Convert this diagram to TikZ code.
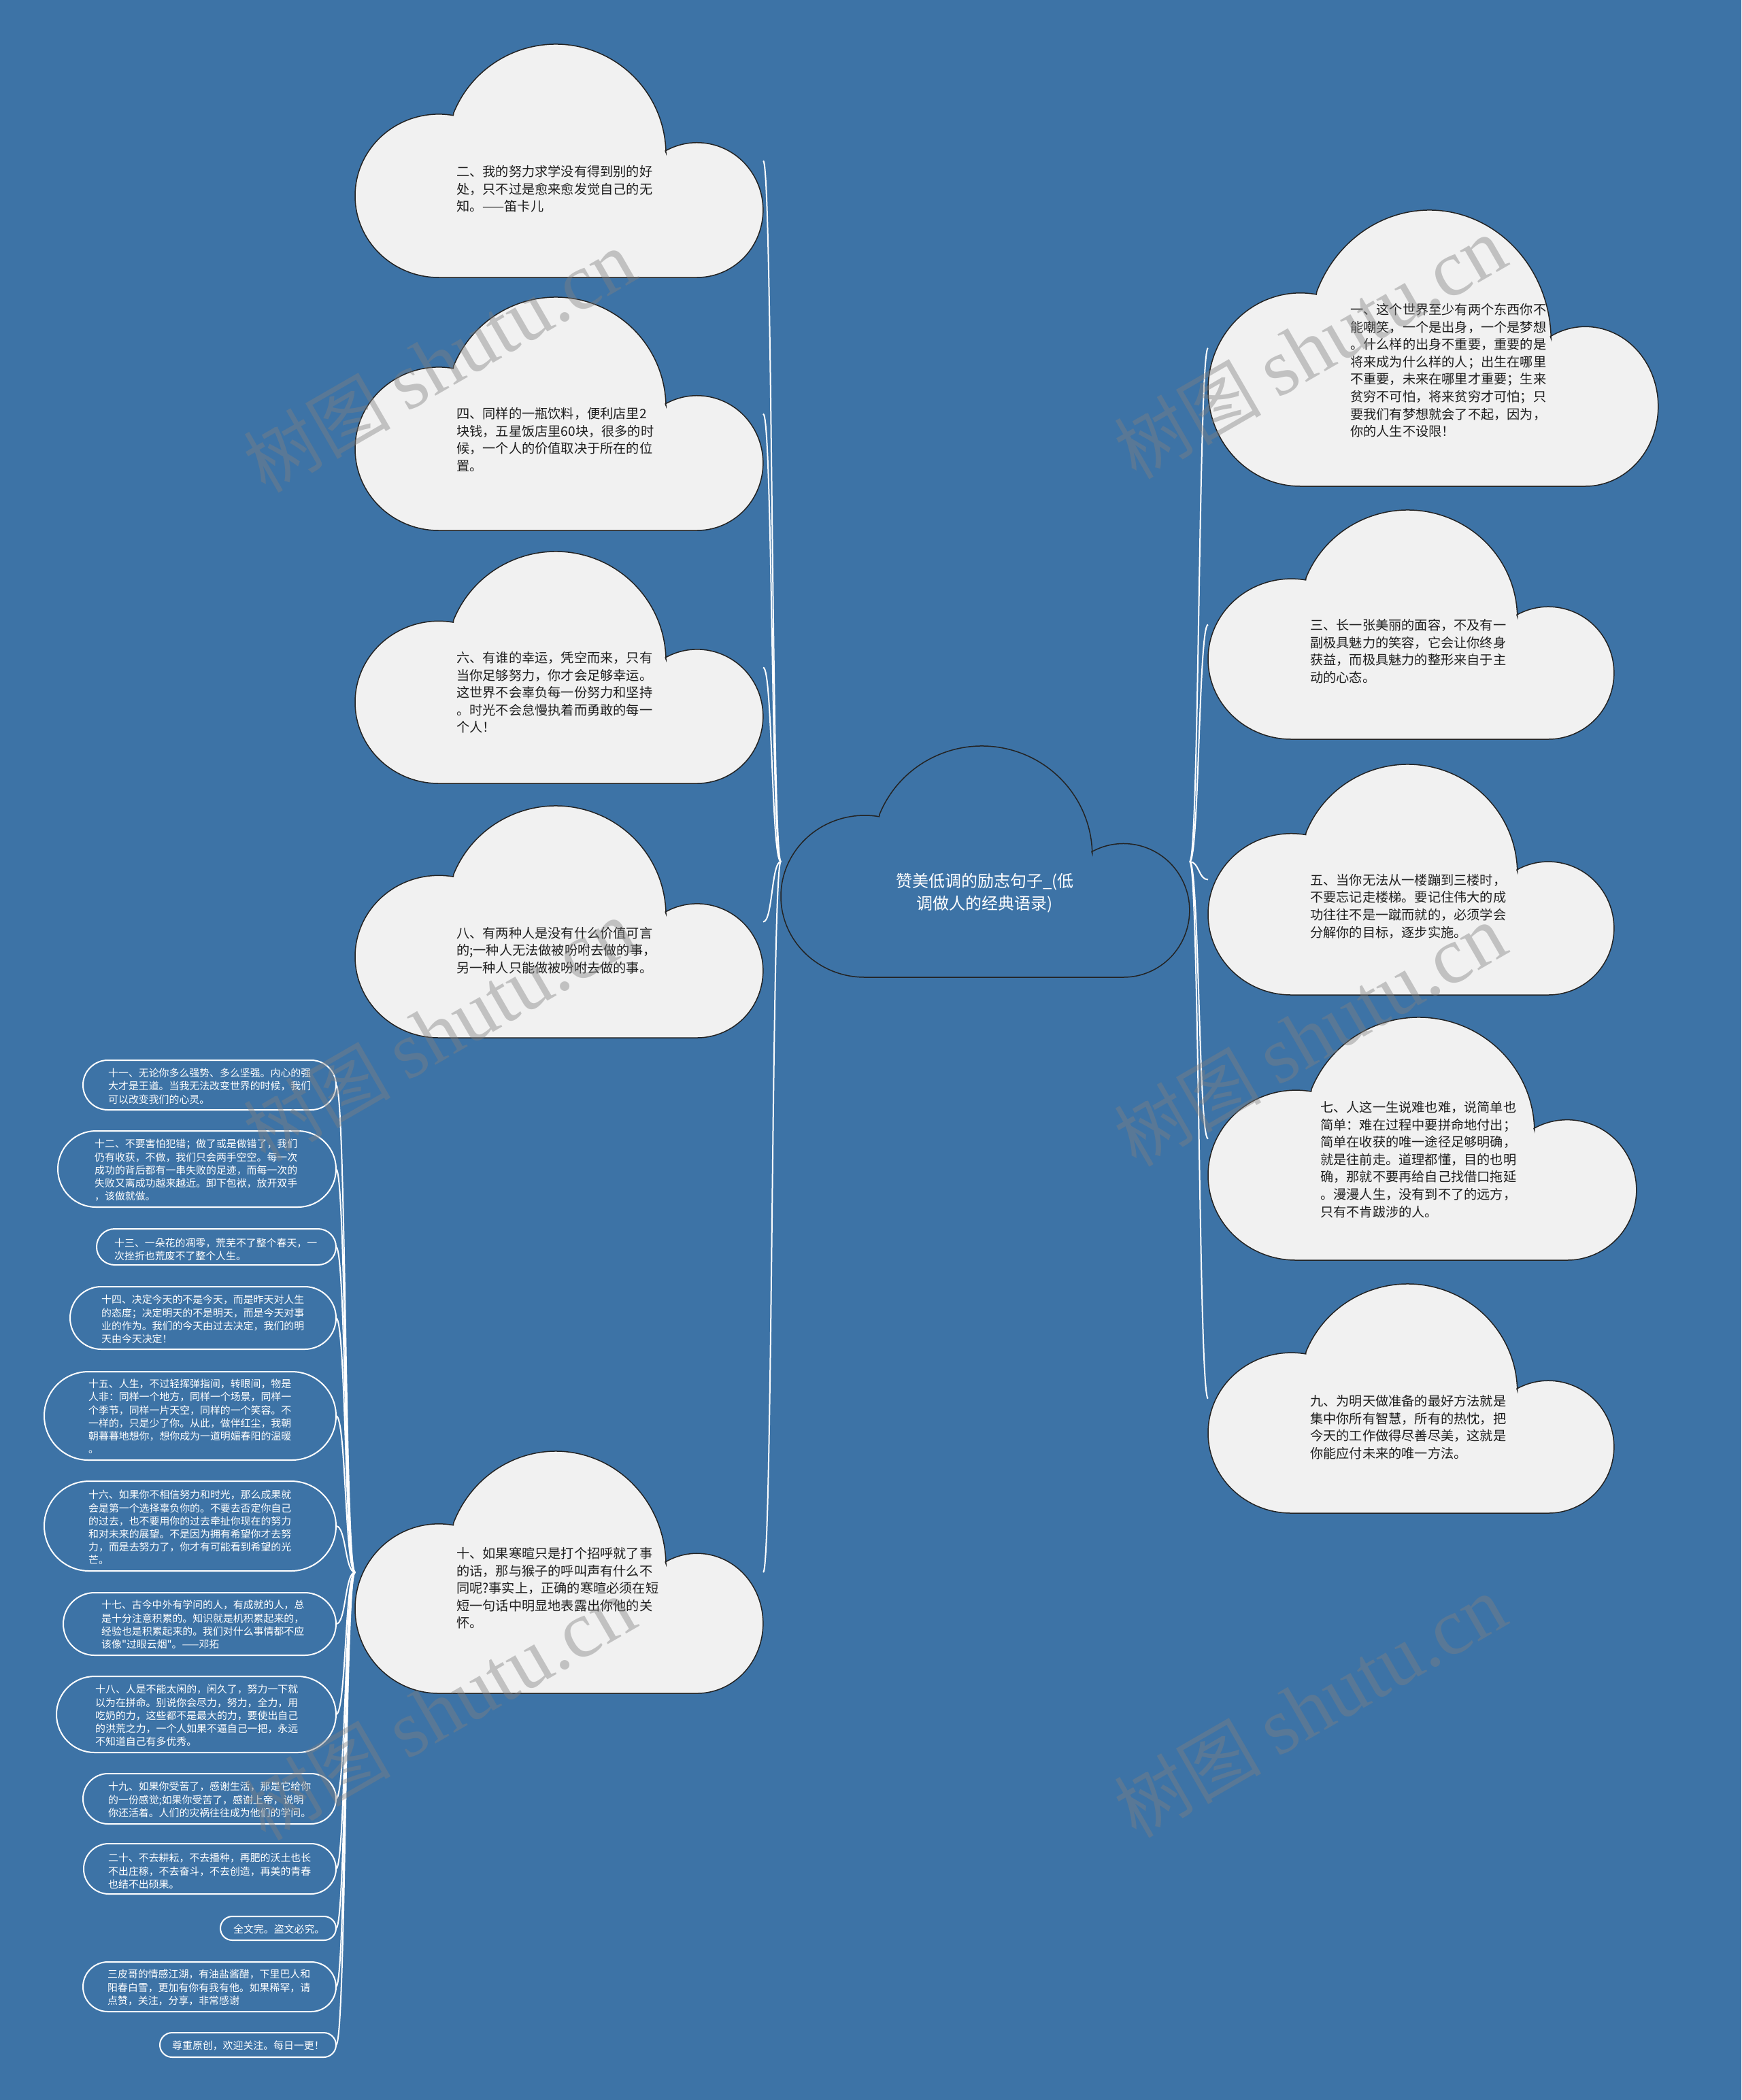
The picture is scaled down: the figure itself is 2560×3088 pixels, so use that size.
\documentclass[tikz,border=0pt]{standalone}
\usepackage{fontspec}
\setmainfont{Noto Sans CJK SC}
\newfontfamily\cjk{Noto Sans CJK SC}
\newfontfamily\wmfont{Liberation Serif}
\usetikzlibrary{shapes.misc}
\definecolor{bgblue}{RGB}{61,115,166}
\definecolor{cloudfill}{RGB}{241,241,241}
\definecolor{cloudline}{RGB}{35,35,35}
\definecolor{inktext}{RGB}{30,30,30}
\definecolor{wmgray}{RGB}{128,128,128}

\tikzset{
  conn/.style={draw=white, line width=2pt},
  cloudbody/.style={fill=cloudfill, draw=cloudline, line width=1.5pt},
  rootbody/.style={fill=bgblue, draw=cloudline, line width=1.5pt},
  bbox/.style={inner sep=0pt, outer sep=0pt, anchor=north west},
  ctext/.style={inner sep=0pt, anchor=north west, align=left, text=inktext, font=\cjk\fontsize{19.2}{25.6}\selectfont},
  rtext/.style={inner sep=0pt, anchor=north, align=center, text=white, font=\cjk\fontsize{24}{33}\selectfont},
  pill/.style={rounded rectangle, draw=white, line width=2pt, fill=bgblue, inner sep=0pt, outer sep=0pt, anchor=east},
  ptext/.style={inner sep=0pt, anchor=north west, align=left, text=white, font=\cjk\fontsize{14.9}{19.2}\selectfont},
  wm/.style={text=wmgray, opacity=0.42, rotate=30, inner sep=0pt}
}

% cloud: name, x-left, y-top (screen), W, H, style
\newcommand{\cloudnode}[6]{%
  \node[bbox, minimum width=#4pt, minimum height=#5pt] (#1) at (#2,-#3) {};
  \pgfmathsetmacro\Lcx{#2+0.205*#4}%
  \pgfmathsetmacro\Lcy{-#3-0.65*#5}%
  \pgfmathsetmacro\Lrx{0.205*#4}%
  \pgfmathsetmacro\Lry{0.35*#5}%
  \pgfmathsetmacro\Tcx{#2+0.4917*#4}%
  \pgfmathsetmacro\Tcy{-#3-0.4723*#5}%
  \pgfmathsetmacro\Trx{0.27*#4}%
  \pgfmathsetmacro\Try{0.4723*#5}%
  \pgfmathsetmacro\Rcx{#2+0.838*#4}%
  \pgfmathsetmacro\Rcy{-#3-0.711*#5}%
  \pgfmathsetmacro\Rrx{0.1617*#4}%
  \pgfmathsetmacro\Rry{0.289*#5}%
  \path[#6] (\Lcx,\Lcy-\Lry)
     arc[start angle=270, end angle=80, x radius=\Lrx pt, y radius=\Lry pt]
     -- ({\Tcx+\Trx*cos(158)},{\Tcy+\Try*sin(158)})
     arc[start angle=158, end angle=1, x radius=\Trx pt, y radius=\Try pt]
     -- ({\Rcx+\Rrx*cos(118.7)},{\Rcy+\Rry*sin(118.7)})
     arc[start angle=118.7, end angle=-90, x radius=\Rrx pt, y radius=\Rry pt]
     -- cycle;
}

\begin{document}
\begin{tikzpicture}[x=1pt,y=1pt]
\useasboundingbox (0,0) rectangle (2560,-3088);
\fill[bgblue] (0,0) rectangle (2560,-3088);

% ---------- clouds ----------
\cloudnode{root}{1148}{1097}{601}{340}{rootbody}
\cloudnode{c2}{522}{65}{600}{343}{cloudbody}
\cloudnode{c4}{522}{437}{600}{343}{cloudbody}
\cloudnode{c6}{522}{811}{600}{341}{cloudbody}
\cloudnode{c8}{522}{1185}{600}{341}{cloudbody}
\cloudnode{c10}{522}{2134}{600}{356}{cloudbody}
\cloudnode{c1}{1776}{309}{662}{406}{cloudbody}
\cloudnode{c3}{1776}{750}{597}{337}{cloudbody}
\cloudnode{c5}{1776}{1124}{597}{339}{cloudbody}
\cloudnode{c7}{1776}{1496}{630}{357}{cloudbody}
\cloudnode{c9}{1776}{1888}{597}{337}{cloudbody}

% ---------- cloud texts ----------
\node[rtext] (roott) at (1448,-1284) {赞美低调的励志句子\_(低\\调做人的经典语录)};

\node[ctext] (c2t) at (671,-243) {二、我的努力求学没有得到别的好\\处，只不过是愈来愈发觉自己的无\\知。——笛卡儿};
\node[ctext] (c4t) at (671,-599) {四、同样的一瓶饮料，便利店里2\\块钱，五星饭店里60块，很多的时\\候，一个人的价值取决于所在的位\\置。};
\node[ctext] (c6t) at (671,-958) {六、有谁的幸运，凭空而来，只有\\当你足够努力，你才会足够幸运。\\这世界不会辜负每一份努力和坚持\\。时光不会怠慢执着而勇敢的每一\\个人！};
\node[ctext] (c8t) at (671,-1363) {八、有两种人是没有什么价值可言\\的;一种人无法做被吩咐去做的事，\\另一种人只能做被吩咐去做的事。};
\node[ctext] (c10t) at (671,-2275) {十、如果寒暄只是打个招呼就了事\\的话，那与猴子的呼叫声有什么不\\同呢?事实上，正确的寒暄必须在短\\短一句话中明显地表露出你他的关\\怀。};

\node[ctext] (c1t) at (1985,-446) {一、这个世界至少有两个东西你不\\能嘲笑，一个是出身，一个是梦想\\。什么样的出身不重要，重要的是\\将来成为什么样的人；出生在哪里\\不重要，未来在哪里才重要；生来\\贫穷不可怕，将来贫穷才可怕；只\\要我们有梦想就会了不起，因为，\\你的人生不设限！};
\node[ctext] (c3t) at (1926,-910) {三、长一张美丽的面容，不及有一\\副极具魅力的笑容，它会让你终身\\获益，而极具魅力的整形来自于主\\动的心态。};
\node[ctext] (c5t) at (1926,-1285) {五、当你无法从一楼蹦到三楼时，\\不要忘记走楼梯。要记住伟大的成\\功往往不是一蹴而就的，必须学会\\分解你的目标，逐步实施。};
\node[ctext] (c7t) at (1941,-1619) {七、人这一生说难也难，说简单也\\简单：难在过程中要拼命地付出；\\简单在收获的唯一途径足够明确，\\就是往前走。道理都懂，目的也明\\确，那就不要再给自己找借口拖延\\。漫漫人生，没有到不了的远方，\\只有不肯跋涉的人。};
\node[ctext] (c9t) at (1926,-2051) {九、为明天做准备的最好方法就是\\集中你所有智慧，所有的热忱，把\\今天的工作做得尽善尽美，这就是\\你能应付未来的唯一方法。};

% ---------- pills ----------
\node[pill, minimum width=372pt, minimum height=73pt] (b11) at (494,-1595.5) {};
\node[pill, minimum width=409pt, minimum height=112pt] (b12) at (494,-1719) {};
\node[pill, minimum width=352pt, minimum height=53pt] (b13) at (494,-1833.5) {};
\node[pill, minimum width=391pt, minimum height=92pt] (b14) at (494,-1938) {};
\node[pill, minimum width=429pt, minimum height=130pt] (b15) at (494,-2082) {};
\node[pill, minimum width=429pt, minimum height=132pt] (b16) at (494,-2244) {};
\node[pill, minimum width=401pt, minimum height=92pt] (b17) at (494,-2388) {};
\node[pill, minimum width=411pt, minimum height=112pt] (b18) at (494,-2521) {};
\node[pill, minimum width=372pt, minimum height=74pt] (b19) at (494,-2645) {};
\node[pill, minimum width=371pt, minimum height=74pt] (b20) at (494,-2748) {};
\node[pill, minimum width=170pt, minimum height=35pt] (b21) at (494,-2835.5) {};
\node[pill, minimum width=372pt, minimum height=73pt] (b22) at (494,-2921.5) {};
\node[pill, minimum width=259pt, minimum height=36pt] (b23) at (494,-3007) {};

\node[ptext] (b11t) at (159,-1571) {十一、无论你多么强势、多么坚强。内心的强\\大才是王道。当我无法改变世界的时候，我们\\可以改变我们的心灵。};
\node[ptext] (b12t) at (139,-1675) {十二、不要害怕犯错；做了或是做错了，我们\\仍有收获，不做，我们只会两手空空。每一次\\成功的背后都有一串失败的足迹，而每一次的\\失败又离成功越来越近。卸下包袱，放开双手\\，该做就做。};
\node[ptext] (b13t) at (168,-1821) {十三、一朵花的凋零，荒芜不了整个春天，一\\次挫折也荒废不了整个人生。};
\node[ptext] (b14t) at (149,-1904) {十四、决定今天的不是今天，而是昨天对人生\\的态度；决定明天的不是明天，而是今天对事\\业的作为。我们的今天由过去决定，我们的明\\天由今天决定！};
\node[ptext] (b15t) at (130,-2028) {十五、人生，不过轻挥弹指间，转眼间，物是\\人非：同样一个地方，同样一个场景，同样一\\个季节，同样一片天空，同样的一个笑容。不\\一样的，只是少了你。从此，做伴红尘，我朝\\朝暮暮地想你，想你成为一道明媚春阳的温暖\\。};
\node[ptext] (b16t) at (130,-2191) {十六、如果你不相信努力和时光，那么成果就\\会是第一个选择辜负你的。不要去否定你自己\\的过去，也不要用你的过去牵扯你现在的努力\\和对未来的展望。不是因为拥有希望你才去努\\力，而是去努力了，你才有可能看到希望的光\\芒。};
\node[ptext] (b17t) at (149,-2353) {十七、古今中外有学问的人，有成就的人，总\\是十分注意积累的。知识就是机积累起来的，\\经验也是积累起来的。我们对什么事情都不应\\该像"过眼云烟"。——邓拓};
\node[ptext] (b18t) at (140,-2477) {十八、人是不能太闲的，闲久了，努力一下就\\以为在拼命。别说你会尽力，努力，全力，用\\吃奶的力，这些都不是最大的力，要使出自己\\的洪荒之力，一个人如果不逼自己一把，永远\\不知道自己有多优秀。};
\node[ptext] (b19t) at (159,-2620) {十九、如果你受苦了，感谢生活，那是它给你\\的一份感觉;如果你受苦了，感谢上帝，说明\\你还活着。人们的灾祸往往成为他们的学问。};
\node[ptext] (b20t) at (159,-2725) {二十、不去耕耘，不去播种，再肥的沃土也长\\不出庄稼，不去奋斗，不去创造，再美的青春\\也结不出硕果。};
\node[ptext] (b21t) at (343,-2830) {全文完。盗文必究。};
\node[ptext] (b22t) at (158,-2896) {三皮哥的情感江湖，有油盐酱醋，下里巴人和\\阳春白雪，更加有你有我有他。如果稀罕，请\\点赞，关注，分享，非常感谢};
\node[ptext] (b23t) at (253,-3001) {尊重原创，欢迎关注。每日一更！};

% ---------- connectors ----------
\foreach \c in {c2,c4,c6,c8,c10}
  \draw[conn] (root.west) .. controls +(-14,0) and +(14,0) .. (\c.east);
\foreach \c in {c1,c3,c5,c7,c9}
  \draw[conn] (root.east) .. controls +(14,0) and +(-14,0) .. (\c.west);
\foreach \b in {b11,b12,b13,b14,b15,b16,b17,b18,b19,b20,b21,b22,b23}
  \draw[conn] (c10.west) .. controls +(-15,0) and +(15,0) .. (\b.east);

% ---------- watermarks ----------
\foreach \n/\x/\y in {wa/646/532, wb/1926/512, wc/646/1516, wd/1926/1523, we/646/2514, wf/1926/2510}
  \node[wm] (\n) at (\x,-\y) {\cjk\fontsize{108}{118}\selectfont 树图\ {\wmfont\fontsize{118}{128}\selectfont shutu.cn}};
\end{tikzpicture}
\end{document}
